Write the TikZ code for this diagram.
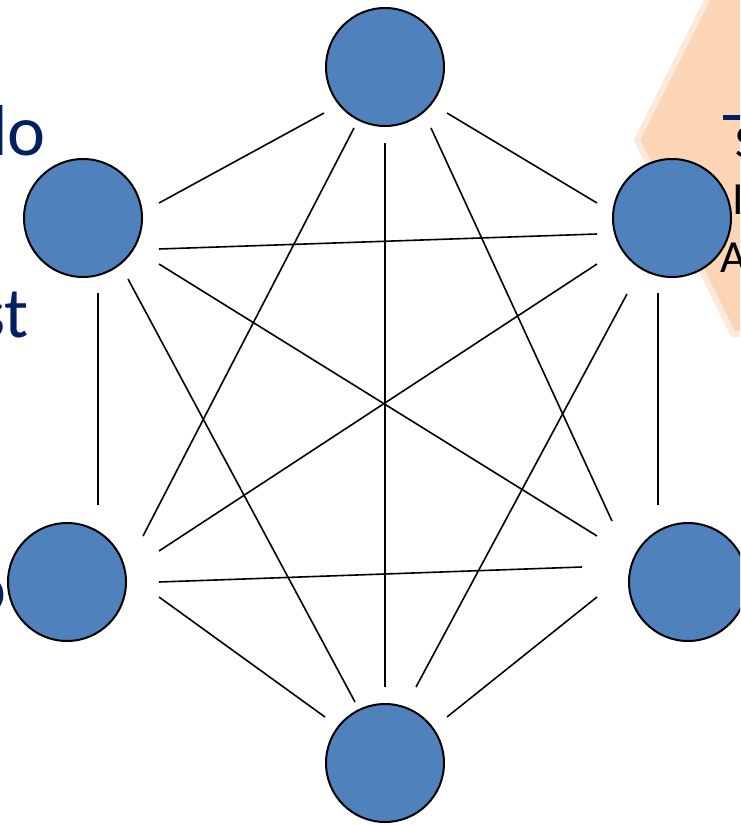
\documentclass[tikz,border=0pt]{standalone}
\usepackage{fontspec}
\setmainfont{Carlito}
\definecolor{nodeblue}{HTML}{4F81BD}
\definecolor{navy}{HTML}{002060}
\definecolor{peach}{HTML}{FBD5B5}
\definecolor{peachedge}{HTML}{FDE9D9}
\begin{document}
\begin{tikzpicture}[x=1pt,y=-1pt,
  vertex/.style={circle,fill=nodeblue,draw=black,line width=2pt,minimum size=118pt,inner sep=0pt},
  edge/.style={draw=black,line width=1.6pt},
  bigtext/.style={text=navy,font=\fontsize{72}{86}\selectfont,inner sep=0pt,anchor=base east},
  sidetext/.style={text=black,font=\fontsize{46}{55}\selectfont,inner sep=0pt,anchor=base west}]
\useasboundingbox (0,0) rectangle (740,825);
\begin{scope}
\clip (0,0) rectangle (740,825);
% peach shape on the right
\fill[peach, draw=peachedge, line width=6pt, line join=miter]
  (712,-10) -- (637,140) -- (733,334) -- (800,334) -- (800,-10) -- cycle;
\fill[navy] (723,115) rectangle (745,120);
\node[sidetext] (s1) at (735,157) {S};
\node[sidetext] (s2) at (732,214) {I};
\node[sidetext] (s3) at (720,272) {A};
% left text fragments
\node[bigtext] (lo) at (46,155) {lo};
\node[bigtext] (st) at (29,337) {st};
\node[bigtext] (ob) at (7,612) {o};
% vertices
\node[vertex] (t)  at (385,67)  {};
\node[vertex] (ul) at (83,218)  {};
\node[vertex] (ur) at (672,218) {};
\node[vertex] (ll) at (67,582)  {};
\node[vertex] (lr) at (688,582) {};
\node[vertex] (b)  at (385,763) {};
% edges
\draw[edge] ([shift={(-61,46)}]t.center) -- ([shift={(76,-15)}]ul.center);
\draw[edge] ([shift={(62,46)}]t.center) -- ([shift={(-75,-15)}]ur.center);
\draw[edge] ([shift={(76,31)}]ul.center) -- ([shift={(-75,16)}]ur.center);
\draw[edge] ([shift={(15,75)}]ul.center) -- ([shift={(31,-77)}]ll.center);
\draw[edge] ([shift={(-14,75)}]ur.center) -- ([shift={(-30,-77)}]lr.center);
\draw[edge] ([shift={(92,0)}]ll.center) -- ([shift={(-106,-15)}]lr.center);
\draw[edge] ([shift={(92,15)}]ll.center) -- ([shift={(-60,-46)}]b.center);
\draw[edge] ([shift={(-91,15)}]lr.center) -- ([shift={(62,-46)}]b.center);
\draw[edge] ([shift={(0,76)}]t.center) -- ([shift={(0,-76)}]b.center);
\draw[edge] ([shift={(-31,61)}]t.center) -- ([shift={(76,-46)}]ll.center);
\draw[edge] ([shift={(46,61)}]t.center) -- ([shift={(-76,-61)}]lr.center);
\draw[edge] ([shift={(76,46)}]ul.center) -- ([shift={(-91,-46)}]lr.center);
\draw[edge] ([shift={(-75,46)}]ur.center) -- ([shift={(92,-31)}]ll.center);
\draw[edge] ([shift={(45,61)}]ul.center) -- ([shift={(-30,-61)}]b.center);
\draw[edge] ([shift={(-45,76)}]ur.center) -- ([shift={(31,-76)}]b.center);
\end{scope}
\end{tikzpicture}
\end{document}
